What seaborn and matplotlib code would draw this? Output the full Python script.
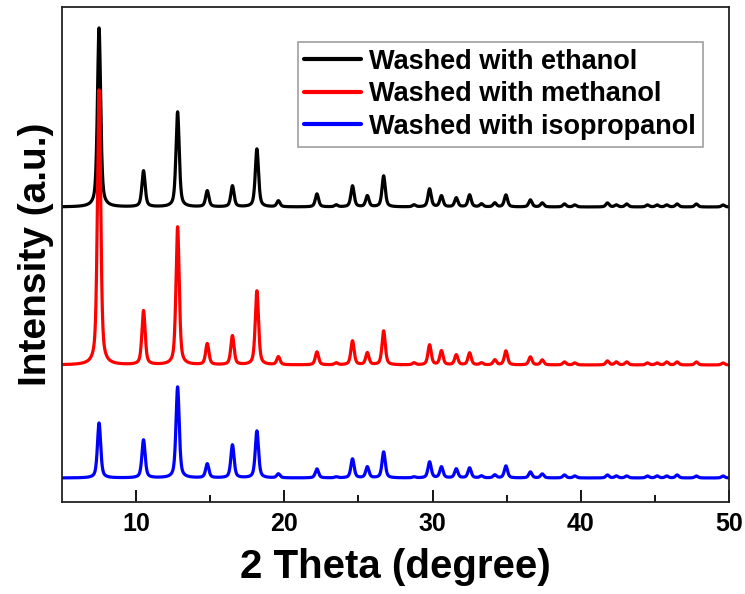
import numpy as np
import pandas as pd
import matplotlib
matplotlib.use("Agg")
import matplotlib.pyplot as plt
import seaborn as sns

# ---- data ----
peak_pos = [7.5, 10.5, 12.8, 14.8, 16.5, 18.15, 19.6, 22.2, 23.5, 24.6, 25.6, 26.7,
            28.75, 29.8, 30.6, 31.6, 32.5, 33.3, 34.2, 34.95, 36.6, 37.4, 38.9, 39.6,
            41.8, 42.4, 43.1, 44.5, 45.15, 45.8, 46.5, 47.8, 49.6]
ethanol_h = [179, 36, 95, 16, 21, 58, 6, 13, 2, 21, 11, 31,
             2, 18, 11, 9, 12, 3, 4, 12, 7, 4, 3, 2,
             4, 2, 3, 2, 2, 2, 3, 3, 2]
methanol_h = [275, 54, 138, 21, 29, 74, 8, 13, 2, 24, 12, 34,
              2, 20, 14, 10, 12, 2, 5, 14, 8, 5, 3, 2,
              4, 3, 3, 2, 2, 3, 3, 3, 2]
isopropanol_h = [55, 38, 91, 14, 33, 47, 4, 9, 1, 19, 11, 26,
                 1, 16, 11, 9, 10, 2, 3, 12, 6, 4, 3, 2,
                 3, 2, 2, 2, 2, 2, 3, 2, 2]
series_names = ["Washed with ethanol", "Washed with methanol", "Washed with isopropanol"]
series_offsets = [295, 137, 24]
series_colors = ["#000000", "#ff0000", "#0000ff"]
x_ticks = [10, 20, 30, 40, 50]

# ---- build profiles (pseudo-Voigt peaks at the read positions/heights) ----
two_theta = np.arange(5.0, 50.001, 0.01)
fwhm = 0.26
eta = 0.55


def profile(heights, offset):
    y = np.full_like(two_theta, float(offset))
    for p, h in zip(peak_pos, heights):
        d = (two_theta - p) / (fwhm / 2)
        lor = 1.0 / (1.0 + d ** 2)
        gau = np.exp(-np.log(2) * d ** 2)
        y += h * (eta * lor + (1 - eta) * gau)
    return y


frames = []
for name, hs, off in zip(series_names, [ethanol_h, methanol_h, isopropanol_h], series_offsets):
    frames.append(pd.DataFrame({"two_theta": two_theta, "intensity": profile(hs, off), "sample": name}))
df = pd.concat(frames, ignore_index=True)

# ---- plot ----
sns.set_style("ticks")
plt.rcParams["font.family"] = ["Liberation Sans", "DejaVu Sans"]
plt.rcParams["text.color"] = "black"
plt.rcParams["axes.labelcolor"] = "black"
plt.rcParams["xtick.color"] = "black"
plt.rcParams["xtick.labelcolor"] = "black"

fig = plt.figure(figsize=(7.45, 5.94), dpi=100)
ax = fig.add_axes([62 / 745, 92 / 594, 667 / 745, 495 / 594])

for name, col in zip(series_names, series_colors):
    sub = df[df["sample"] == name]
    sns.lineplot(data=sub, x="two_theta", y="intensity", color=col, linewidth=2.3,
                 label=name, ax=ax, sort=False, estimator=None)

ax.set_xlim(5, 50)
ax.set_ylim(0, 495)
ax.set_xticks(x_ticks)
ax.set_xticks(np.arange(15, 50, 10), minor=True)
ax.set_yticks([])
ax.tick_params(axis="x", which="major", direction="in", length=9, width=1.3, pad=7,
               labelsize=18, labelcolor="black")
ax.tick_params(axis="x", which="minor", direction="in", length=5, width=1.3)
for lab in ax.get_xticklabels():
    lab.set_fontweight("bold")
for s in ax.spines.values():
    s.set_linewidth(1.3)
    s.set_color("#222222")

ax.set_xlabel("2 Theta (degree)", fontsize=29, fontweight="bold", color="black", labelpad=9)
ax.set_ylabel("Intensity (a.u.)", fontsize=28, fontweight="bold", color="black", labelpad=6)

leg = ax.legend(loc="upper right", bbox_to_anchor=((703 - 62) / 667, (502 - 42) / 495),
                borderaxespad=0, frameon=True, fancybox=False, handlelength=2.1,
                handletextpad=0.3, labelspacing=0.24, borderpad=0.25,
                prop={"family": ["Liberation Sans", "DejaVu Sans"], "weight": "bold", "size": 19.5})
leg.get_frame().set_edgecolor("#888888")
leg.get_frame().set_linewidth(1.2)
for line in leg.get_lines():
    line.set_linewidth(3)
for t in leg.get_texts():
    t.set_color("black")

fig.savefig("out.png", dpi=100)
